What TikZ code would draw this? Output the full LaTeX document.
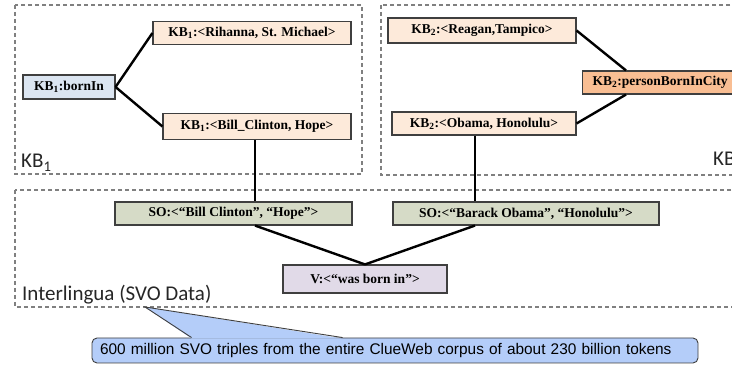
\documentclass[tikz,border=0pt]{standalone}
\usepackage{fontspec}
\setmainfont{Liberation Serif}
\newfontfamily\calfont{Carlito}
\newfontfamily\arialfont{Liberation Sans}
\usetikzlibrary{calc}
\definecolor{peach}{HTML}{FDEADA}
\definecolor{lblue}{HTML}{DBE5F1}
\definecolor{salmon}{HTML}{F9BE93}
\definecolor{sogreen}{HTML}{D6DBC7}
\definecolor{lav}{HTML}{E1DAE8}
\definecolor{callblue}{HTML}{B4CDF9}
\definecolor{bord}{HTML}{3F3F3F}
\definecolor{dashgray}{HTML}{808080}
\begin{document}
\begin{tikzpicture}[x=1pt,y=-1pt,
  box/.style={draw=bord,line width=1.1pt,inner sep=0pt,font=\fontsize{13.5}{15}\selectfont\bfseries,minimum height=24pt},
  region/.style={draw=dashgray,line width=1.1pt,dash pattern=on 4pt off 3pt},
  link/.style={line width=2.4pt,black},
  lbl/.style={font=\calfont\fontsize{21}{24}\selectfont,inner sep=0pt,anchor=base west,text=black!85}
]
\useasboundingbox (0,0) rectangle (732,366);
\begin{scope}
\clip (0,0) rectangle (732,366);
% regions
\draw[region] (15,5) rectangle (362,174);
\draw[region] (381,5) rectangle (760,175);
\draw[region] (15,190) rectangle (760,307);
\node[lbl] (kb1lbl) at (21,168) {KB\textsubscript{1}};
\node[lbl] (kb2lbl) at (713,166) {KB\textsubscript{2}};
\node[lbl] (ilbl) at (22,301) {Interlingua (SVO Data)};
% KB1 nodes
\node[box,fill=peach,minimum width=198pt,minimum height=23pt] (rih) at (252,33) {KB\textsubscript{1}:<Rihanna, St. Michael>};
\node[box,fill=lblue,minimum width=92pt] (born) at (69,87) {KB\textsubscript{1}:bornIn};
\node[box,fill=peach,minimum width=188pt,minimum height=26pt] (bill) at (257,126.5) {KB\textsubscript{1}:<Bill\_Clinton, Hope>};
% KB2 nodes
\node[box,fill=peach,minimum width=188pt,minimum height=25pt] (reagan) at (482,30.5) {KB\textsubscript{2}:<Reagan,Tampico>};
\node[box,fill=salmon,anchor=west,inner xsep=10pt,minimum height=23pt] (pbic) at (582,82.5) {KB\textsubscript{2}:personBornInCity};
\node[box,fill=peach,minimum width=184pt,minimum height=23pt] (obama) at (484,123.5) {KB\textsubscript{2}:<Obama, Honolulu>};
% SVO nodes
\node[box,fill=sogreen,minimum width=237pt,minimum height=23pt] (sobill) at (233.5,213.5) {SO:<“Bill Clinton”, “Hope”>};
\node[box,fill=sogreen,minimum width=266pt,minimum height=23pt] (sobar) at (526,213.5) {SO:<“Barack Obama”, “Honolulu”>};
\node[box,fill=lav,minimum width=164pt,minimum height=28pt] (v) at (365,279) {V:<“was born in”>};
% links
\draw[link] (born.east) -- (rih.west);
\draw[link] (born.east) -- (bill.west);
\draw[link] ([xshift=-2pt]bill.south) -- ([xshift=-2pt]bill.south |- sobill.north);
\draw[link] (reagan.east) -- ($(pbic.north west)+(44,0)$);
\draw[link] (obama.east) -- ($(pbic.south west)+(44,0)$);
\draw[link] ([xshift=-9pt]obama.south) -- ([xshift=-9pt]obama.south |- sobar.north);
\draw[link] ([xshift=21.5pt]sobill.south) -- (v.north);
\draw[link] ([xshift=-51pt]sobar.south) -- (v.north);
% callout
\node[draw=bord,line width=0.9pt,fill=callblue,rounded corners=5pt,minimum width=606pt,minimum height=25pt,inner xsep=8pt,text width=590pt,align=left,font=\arialfont\fontsize{15.4}{17}\selectfont] (call) at (395,350.5) {600 million SVO triples from the entire ClueWeb corpus of about 230 billion tokens};
\coordinate (tip) at (145,307);
\fill[callblue] ($(call.north west)+(100,1)$) -- (tip) -- ($(call.north west)+(251,1)$) -- cycle;
\draw[bord,line width=0.9pt,line join=miter] ($(call.north west)+(100,0)$) -- (tip) -- ($(call.north west)+(251,0)$);
\end{scope}
\end{tikzpicture}
\end{document}
